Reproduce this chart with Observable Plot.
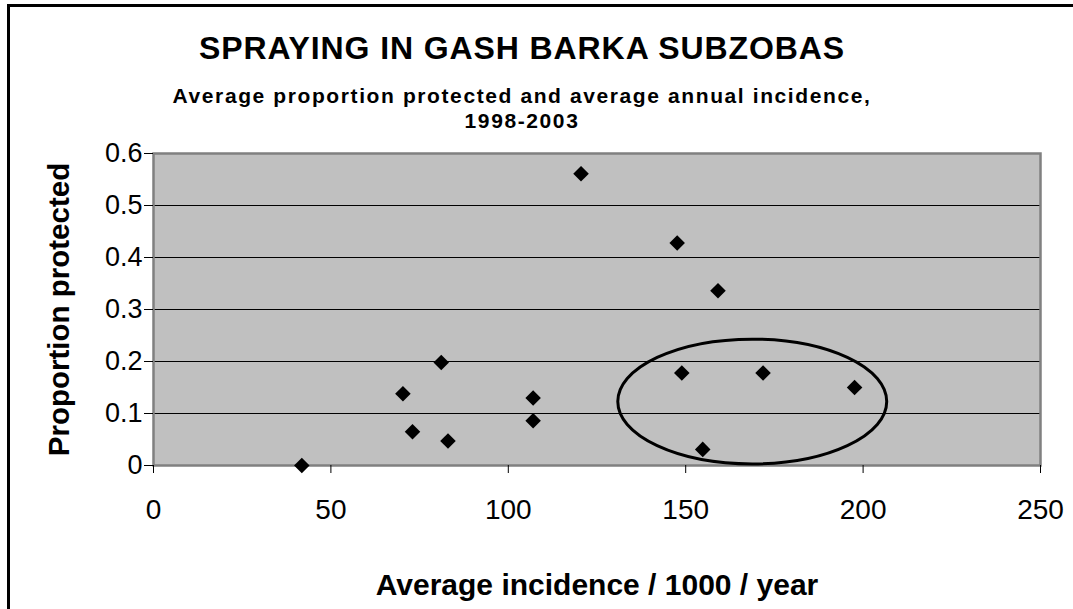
<!DOCTYPE html>
<html>
<head>
<meta charset="utf-8">
<script src="https://cdn.jsdelivr.net/npm/d3@7"></script>
<script src="https://cdn.jsdelivr.net/npm/@observablehq/plot@0.6"></script>
<style>
  html, body { margin: 0; padding: 0; background: #fff; }
  #wrap { position: relative; width: 1073px; height: 609px; overflow: hidden;
          font-family: "Liberation Sans", Arial, sans-serif; color: #000; }
  #border { position: absolute; left: 7px; top: 4px; width: 1100px; height: 640px;
            border-left: 3px solid #000; border-top: 3px solid #000; }
  .t { position: absolute; left: 0; width: 1044px; text-align: center; font-weight: bold;
       white-space: nowrap; line-height: 1; }
  #chart { position: absolute; left: 0; top: 0; }
</style>
</head>
<body>
<div id="wrap">
  <div id="border"></div>
  <div id="chart"></div>
  <div class="t" id="title" style="top:32px; font-size:32px; letter-spacing:0.9px;">SPRAYING IN GASH BARKA SUBZOBAS</div>
  <div class="t" id="sub1" style="top:85px; font-size:21px; letter-spacing:1.6px;">Average proportion protected and average annual incidence,</div>
  <div class="t" id="sub2" style="top:110px; font-size:21px; letter-spacing:1.6px;">1998-2003</div>
</div>
<script>
// ---- data ----
const incidence      = [41.8, 70.3, 73.0, 81.1, 83.0, 107.0, 107.0, 120.5, 147.6, 148.9, 154.8, 159.1, 171.8, 197.6];
const proportionProt = [0.000, 0.138, 0.065, 0.198, 0.047, 0.130, 0.086, 0.561, 0.428, 0.178, 0.031, 0.336, 0.178, 0.150];
const xTicks = [0, 50, 100, 150, 200, 250];
const yTicks = [0, 0.1, 0.2, 0.3, 0.4, 0.5, 0.6];
const gridY  = [0.1, 0.2, 0.3, 0.4, 0.5];
const xLabel = ["Average incidence / 1000 / year"];
const yLabel = ["Proportion protected"];
// annotation ellipse (data units): center and radii
const ellipseCenter = [168.9, 0.122];
const ellipseRadii  = [37.9, 0.120];

const points = incidence.map((x, i) => ({x, y: proportionProt[i]}));

function ellipseMark(index, scales) {
  const sx = scales.x, sy = scales.y;
  const cx = sx(ellipseCenter[0]), cy = sy(ellipseCenter[1]);
  const rx = Math.abs(sx(ellipseCenter[0] + ellipseRadii[0]) - cx);
  const ry = Math.abs(sy(ellipseCenter[1] + ellipseRadii[1]) - cy);
  const el = document.createElementNS("http://www.w3.org/2000/svg", "ellipse");
  el.setAttribute("cx", cx); el.setAttribute("cy", cy);
  el.setAttribute("rx", rx); el.setAttribute("ry", ry);
  el.setAttribute("fill", "none"); el.setAttribute("stroke", "#000");
  el.setAttribute("stroke-width", 3);
  return el;
}

const chart = Plot.plot({
  width: 1073, height: 609,
  marginLeft: 153, marginRight: 33, marginTop: 153, marginBottom: 144,
  x: {domain: [0, 250]},
  y: {domain: [0, 0.6]},
  style: {fontFamily: "'Liberation Sans', Arial, sans-serif", background: "transparent", color: "#000", overflow: "visible"},
  marks: [
    Plot.frame({fill: "#c0c0c0", stroke: null}),
    Plot.ruleY(gridY, {stroke: "#000", strokeWidth: 1.2}),
    Plot.frame({stroke: "#808080", strokeWidth: 2.5}),
    Plot.axisX({ticks: xTicks, tickSize: 8, tickPadding: 26, fontSize: 28, label: null,
                tickFormat: d => String(d), stroke: "#000"}),
    Plot.axisY({ticks: yTicks, tickSize: 9, tickPadding: 2, fontSize: 27, label: null,
                tickFormat: d => d === 0 ? "0" : d.toFixed(1), stroke: "#000"}),
    Plot.dot(points, {x: "x", y: "y", symbol: "diamond2", r: 7, fill: "#000", stroke: null}),
    ellipseMark,
    Plot.text(xLabel, {text: d => d, frameAnchor: "bottom", dy: 120, lineAnchor: "middle", textAnchor: "middle",
                       fontSize: 30, fontWeight: "bold", fill: "#000"}),
    Plot.text(yLabel, {text: d => d, frameAnchor: "left", dx: -94, rotate: -90, lineAnchor: "middle", textAnchor: "middle",
                       fontSize: 29.5, fontWeight: "bold", fill: "#000"})
  ]
});
document.getElementById("chart").appendChild(chart);
</script>
</body>
</html>
